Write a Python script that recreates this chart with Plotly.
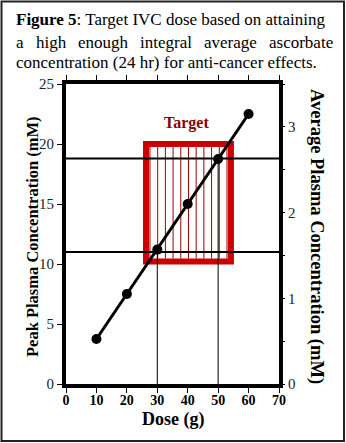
import numpy as np
import plotly.graph_objects as go

# ---- data ----
dose = [10, 20, 30, 40, 50, 60]
peak = [3.75, 7.5, 11.2, 15.0, 18.75, 22.5]
thresholds = [11.0, 18.8]          # horizontal reference lines (mM peak)
drop_doses = [30, 50]              # vertical drop lines
drop_vals = [11.2, 18.75]
target_dose = [26.3, 54.2]
target_conc = [10.2, 20.0]
x_ticks = [0, 10, 20, 30, 40, 50, 60, 70]
y_ticks = [0, 5, 10, 15, 20, 25]
y2_vals = [0, 0.5, 1, 1.5, 2, 2.5, 3, 3.5]
y2_text = ["0", "", "1", "", "2", "", "3", ""]

W, H = 346, 443
L, R, T, B = 66, 279, 84, 384


def px(p):
    return (p - L) / (R - L)


def py(p):
    return (B - p) / (B - T)


SERIF = "Liberation Serif, Times New Roman, serif"

fig = go.Figure()
fig.add_trace(go.Scatter(
    x=dose, y=peak, mode="lines+markers",
    line=dict(color="black", width=3),
    marker=dict(color="black", size=10),
    showlegend=False, hoverinfo="skip"))
# dummy trace for right axis
fig.add_trace(go.Scatter(x=[0], y=[0], yaxis="y2", mode="markers",
                         marker=dict(opacity=0), showlegend=False, hoverinfo="skip"))

shapes = []
# hatch lines in target box
for hx in np.linspace(target_dose[0] + 1.3, target_dose[1] - 1.3, 11):
    shapes.append(dict(type="line", x0=hx, x1=hx, y0=target_conc[0] + 0.25, y1=target_conc[1] - 0.25,
                       line=dict(color="#a00000", width=1), layer="below"))
shapes.append(dict(type="rect", x0=target_dose[0], x1=target_dose[1], y0=target_conc[0], y1=target_conc[1],
                   line=dict(color="#cc0000", width=6), layer="below"))
for t in thresholds:
    shapes.append(dict(type="line", x0=0, x1=70, y0=t, y1=t,
                       line=dict(color="black", width=2), layer="below"))
for d, v in zip(drop_doses, drop_vals):
    shapes.append(dict(type="line", x0=d, x1=d, y0=0, y1=v,
                       line=dict(color="black", width=1), layer="below"))
# outer border
shapes.append(dict(type="rect", xref="paper", yref="paper",
                   x0=px(1.5), x1=px(344), y0=py(1.5), y1=py(441),
                   line=dict(color="#222", width=2)))


def ann(text, xp, yp, size, xanchor="center", angle=0, color="black"):
    return dict(xref="paper", yref="paper", x=px(xp), y=py(yp), xanchor=xanchor, yanchor="middle",
                showarrow=False, text=text, textangle=angle,
                font=dict(family=SERIF, size=size, color=color))


annotations = []
TS = 17
annotations.append(ann("<b>Figure 5</b>: Target IVC dose based on attaining", 14, 20, TS, "left"))
line2 = [("a", 14), ("high", 33.6), ("enough", 75.9), ("integral", 138), ("average", 202), ("ascorbate", 267)]
for word, xp in line2:
    annotations.append(ann(word, xp, 42, TS, "left"))
annotations.append(ann("concentration (24 hr) for anti-cancer effects.", 14, 63, TS, "left"))
# Target label
annotations.append(dict(x=39.5, y=21.75, xref="x", yref="y", showarrow=False, text="<b>Target</b>",
                        xanchor="center", yanchor="middle",
                        font=dict(family=SERIF, size=16, color="#8b0000")))
# axis titles
annotations.append(ann("<b>Peak Plasma Concentration (mM)</b>", 32, 237, 16.5, "center", -90))
annotations.append(ann("<b>Average Plasma Concentration (mM)</b>", 316, 236, 18.5, "center", 90))
annotations.append(ann("<b>Dose (g)</b>", 173, 419, 18, "center"))

fig.update_layout(
    width=W, height=H,
    margin=dict(l=L, r=W - R, t=T, b=H - B, pad=0),
    paper_bgcolor="white", plot_bgcolor="white",
    shapes=shapes, annotations=annotations,
    xaxis=dict(range=[0, 70], tickvals=x_ticks, showgrid=False, zeroline=False,
               showline=True, linecolor="black", linewidth=4, mirror="ticks",
               ticks="outside", ticklen=5, tickwidth=1, tickcolor="black",
               ticklabelstandoff=-5,
               tickfont=dict(family=SERIF, size=14, color="black", weight="bold")),
    yaxis=dict(range=[0, 25], tickvals=y_ticks, showgrid=False, zeroline=False,
               showline=True, linecolor="black", linewidth=4, mirror=True,
               ticks="outside", ticklen=5, tickwidth=1, tickcolor="black",
               tickfont=dict(family=SERIF, size=15, color="#222")),
    yaxis2=dict(range=[0, 3.5], tickvals=y2_vals, ticktext=y2_text, overlaying="y", side="right",
                showgrid=False, zeroline=False, showline=False,
                ticks="outside", ticklen=5, tickwidth=1, tickcolor="black",
                tickfont=dict(family=SERIF, size=15, color="#222")),
)

fig.write_html("out.html")
